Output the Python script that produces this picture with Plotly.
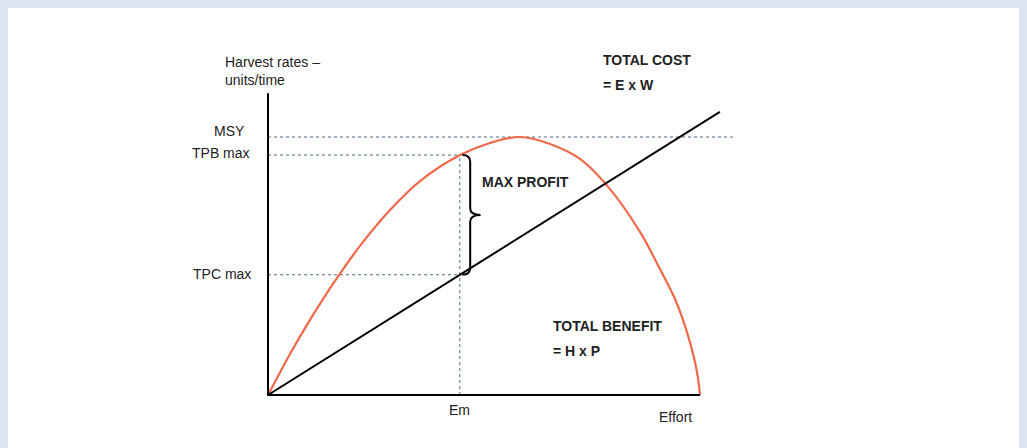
import plotly.graph_objects as go

# ---- data (arbitrary units: effort 0-100, harvest MSY = 100) ----
effort = [0, 1.85, 5.09, 9.72, 15.51, 21.30, 28.24, 35.19, 44.44, 51.39, 58.33,
          65.28, 72.22, 79.17, 86.11, 90.74, 94.21, 96.99, 98.84, 99.54, 100]
benefit = [0, 5.8, 15.9, 29.1, 44.2, 57.8, 71.7, 82.9, 93.0, 97.7, 100,
           97.3, 91.5, 79.8, 63.2, 48.8, 37.2, 24.4, 12.8, 6.6, 0]
cost_effort = [0, 104.6]
cost_harvest = [0, 109.7]
MSY = 100
TPB_max = 93.0
TPC_max = 46.6
Em = 44.4
y_axis_top = 117
x_axis_end = 100
msy_line_end = 107.6

W, H = 1027, 448
# pixel mapping inside the figure: origin at (260, 387) px, 4.32 px per effort unit,
# 2.58 px per harvest unit (page has an 8 px body margin)
ox, oy, sx, sy = 260, 387, 4.32, 2.58
xr = [-ox / sx, (W - ox) / sx]
yr = [(oy - H) / sy, oy / sy]

ORANGE = "#f0694a"
DOT = "#4d6b88"
TXT = "#222222"
FONT = "Liberation Sans, Arial, sans-serif"
FS = 14

fig = go.Figure()

# dotted guide lines
fig.add_trace(go.Scatter(x=[0, msy_line_end], y=[MSY, MSY], mode="lines",
                         line=dict(color=DOT, width=1, dash="dot"), hoverinfo="skip"))
fig.add_trace(go.Scatter(x=[0, Em], y=[TPB_max, TPB_max], mode="lines",
                         line=dict(color=DOT, width=1, dash="dot"), hoverinfo="skip"))
fig.add_trace(go.Scatter(x=[0, Em], y=[TPC_max, TPC_max], mode="lines",
                         line=dict(color=DOT, width=1, dash="dot"), hoverinfo="skip"))
fig.add_trace(go.Scatter(x=[Em, Em], y=[0, TPB_max], mode="lines",
                         line=dict(color=DOT, width=1, dash="dot"), hoverinfo="skip"))

# total benefit curve
fig.add_trace(go.Scatter(x=effort, y=benefit, mode="lines",
                         line=dict(color=ORANGE, width=2.2, shape="spline", smoothing=1.0),
                         hoverinfo="skip"))
# total cost line
fig.add_trace(go.Scatter(x=cost_effort, y=cost_harvest, mode="lines",
                         line=dict(color="black", width=2), hoverinfo="skip"))
# axes
fig.add_trace(go.Scatter(x=[0, 0, x_axis_end], y=[y_axis_top, 0, 0], mode="lines",
                         line=dict(color="black", width=2), hoverinfo="skip"))

# brace between TPB max and TPC max
bx0 = Em + 0.6
bx1 = Em + 2.4
bx2 = Em + 4.8
mid = (TPB_max + TPC_max) / 2
c = 2.6
path = (f"M {bx0},{TPB_max} Q {bx1},{TPB_max} {bx1},{TPB_max - c} "
        f"L {bx1},{mid + c} Q {bx1},{mid} {bx2},{mid} "
        f"Q {bx1},{mid} {bx1},{mid - c} "
        f"L {bx1},{TPC_max + c} Q {bx1},{TPC_max} {bx0},{TPC_max}")
fig.add_shape(type="path", path=path, xref="x", yref="y",
              line=dict(color="black", width=2))


def px(x):
    return (x - 8) / W


def py(y):
    return 1 - (y - 8) / H


def txt(text, x, y, anchor="left", bold=False, size=FS):
    fig.add_annotation(text=f"<b>{text}</b>" if bold else text, xref="paper", yref="paper",
                       x=px(x), y=py(y), xanchor=anchor, yanchor="middle", showarrow=False,
                       font=dict(family=FONT, size=size, color=TXT))


txt("Harvest rates –", 223, 62)
txt("units/time", 223, 80)
txt("TOTAL COST", 601, 60, bold=True)
txt("= E x W", 601, 85, bold=True)
txt("MAX PROFIT", 480, 182, bold=True)
txt("TOTAL BENEFIT", 551, 326, bold=True)
txt("= H x P", 551, 351, bold=True)
txt("Effort", 657, 417)

# value labels on axes
for label, val, shift, right in [("MSY", MSY, 6, 247), ("TPB max", TPB_max, 2, 252),
                                 ("TPC max", TPC_max, 1, 253)]:
    fig.add_annotation(text=label, x=(right - 8 - ox) / sx, y=val, xref="x", yref="y",
                       xanchor="right", yanchor="middle", yshift=shift, showarrow=False,
                       font=dict(family=FONT, size=FS, color=TXT))
fig.add_annotation(text="Em", x=Em, y=0, xref="x", yref="y", xanchor="center",
                   yanchor="middle", yshift=-15, showarrow=False,
                   font=dict(family=FONT, size=FS, color=TXT))

fig.update_layout(width=W, height=H, autosize=False,
                  margin=dict(l=0, r=0, t=0, b=0),
                  paper_bgcolor="white", plot_bgcolor="white",
                  showlegend=False,
                  xaxis=dict(range=xr, visible=False, fixedrange=True),
                  yaxis=dict(range=yr, visible=False, fixedrange=True))

fig.write_html("out.html", post_script="document.body.style.background='#dde3ef';")
